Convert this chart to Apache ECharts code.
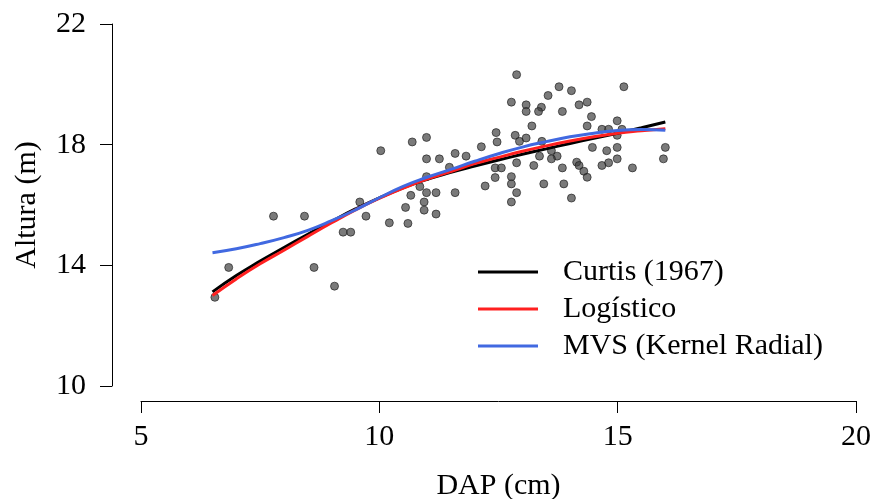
<!DOCTYPE html>
<html>
<head>
<meta charset="utf-8">
<title>Altura x DAP</title>
<script src="https://cdn.jsdelivr.net/npm/echarts@6/dist/echarts.min.js"></script>
<style>
    html, body { margin: 0; padding: 0; background: #fff; }
    #chart { width: 872px; height: 499px; }
</style>
</head>
<body>
<div id="chart"></div>
<script>
// observed trees (DAP cm, Altura m)
const obsDap = [
    6.55, 6.84, 7.78, 8.43, 8.63, 9.06, 9.24, 9.40, 9.59, 9.72, 10.21,
    10.03, 10.69, 10.99, 10.99, 11.26, 11.59, 11.82, 12.14, 12.45, 12.47, 12.85,
    12.88, 12.43, 12.56, 12.43, 12.77, 12.77, 12.88, 12.77, 12.22, 11.47, 10.99,
    10.85, 10.99, 11.19, 11.59, 10.66, 10.94, 10.94, 10.55, 11.19, 10.60,
    12.88, 13.77, 14.03, 15.13, 13.54, 12.77, 13.08, 13.08, 13.40, 13.34, 14.19,
    14.36, 13.84, 14.45, 13.20, 14.36, 14.99, 14.67, 14.81, 15.09, 12.94, 13.08,
    13.41, 14.99, 14.99, 14.47, 14.77, 16.00, 15.96, 14.99, 15.31, 14.67, 14.81,
    14.14, 14.19, 14.29, 14.36, 13.84, 13.73, 13.61, 13.61, 13.36, 13.24, 13.45,
    13.87, 14.03
];
const obsAltura = [
    12.94, 13.93, 15.63, 15.63, 13.93, 13.31, 15.10, 15.10, 16.10, 15.63, 15.41,
    17.80, 18.09, 18.24, 17.53, 17.53, 17.71, 17.62, 17.93, 18.40, 18.09, 18.31,
    17.40, 17.23, 17.23, 16.91, 16.94, 16.70, 16.41, 16.10, 16.63, 17.25, 16.94,
    16.61, 16.41, 16.41, 16.41, 16.32, 16.10, 15.83, 15.92, 15.70, 15.39,
    20.32, 19.92, 19.79, 19.92, 19.63, 19.41, 19.32, 19.10, 19.24, 19.10, 19.32,
    19.41, 19.10, 18.93, 18.62, 18.62, 18.79, 18.51, 18.51, 18.51, 18.11, 18.22,
    18.11, 18.31, 17.91, 17.91, 17.80, 17.91, 17.53, 17.53, 17.23, 17.31, 17.40,
    17.42, 17.31, 17.12, 16.92, 17.23, 17.62, 17.53, 17.80, 17.62, 17.31, 16.70,
    16.70, 16.23
];

// fitted curves read along DAP
const dapGrid = [6.5, 7, 7.5, 8, 8.5, 9, 9.5, 10, 10.5, 11, 11.5, 12, 12.5, 13, 13.5, 14, 14.5, 15, 15.5, 16];
const curtis = [13.12, 13.66, 14.14, 14.59, 15.03, 15.46, 15.87, 16.24, 16.57, 16.85, 17.08, 17.29, 17.49, 17.68, 17.86, 18.04, 18.21, 18.38, 18.56, 18.75];
const logistico = [13.00, 13.55, 14.05, 14.50, 14.96, 15.41, 15.84, 16.22, 16.56, 16.86, 17.11, 17.37, 17.58, 17.78, 17.96, 18.12, 18.26, 18.38, 18.46, 18.53];
const mvs = [14.42, 14.55, 14.72, 14.92, 15.16, 15.48, 15.84, 16.24, 16.62, 16.92, 17.18, 17.45, 17.70, 17.92, 18.10, 18.26, 18.38, 18.47, 18.50, 18.48];

const nomes = ['Curtis (1967)', 'Logístico', 'MVS (Kernel Radial)'];
const cores = ['#000000', '#ff2020', '#4169e1'];

const fonte = '"Liberation Serif", "Times New Roman", serif';

function pares(xs, ys) {
    let list = [];
    for (let i = 0; i < xs.length; i++) {
        list.push([xs[i], ys[i]]);
    }
    return list;
}

let chart = echarts.init(document.getElementById('chart'));
let curvas = [curtis, logistico, mvs];
let series = [{
    type: 'scatter',
    data: pares(obsDap, obsAltura),
    symbolSize: 8,
    itemStyle: {
        color: 'rgba(60,60,60,0.85)',
        borderColor: 'rgba(25,25,25,0.8)',
        borderWidth: 1
    },
    z: 2
}];
for (let i = 0; i < curvas.length; i++) {
    series.push({
        name: nomes[i],
        type: 'line',
        smooth: true,
        symbol: 'none',
        data: pares(dapGrid, curvas[i]),
        lineStyle: { color: cores[i], width: 3 },
        itemStyle: { color: cores[i] },
        z: 3 + i
    });
}

let options = {
    animation: false,
    backgroundColor: '#ffffff',
    grid: { left: 141, right: 16, top: 24, bottom: 113, outerBoundsMode: 'none', containLabel: false },
    legend: {
        data: nomes,
        orient: 'vertical',
        left: 478,
        top: 256,
        padding: 0,
        icon: 'rect',
        itemWidth: 60,
        itemHeight: 3,
        itemGap: 5,
        textStyle: {
            fontFamily: fonte,
            fontSize: 30,
            lineHeight: 32,
            color: '#000',
            padding: [0, 0, 0, 20]
        }
    },
    xAxis: {
        type: 'value',
        min: 5,
        max: 20,
        interval: 5,
        offset: 15,
        name: 'DAP (cm)',
        nameLocation: 'middle',
        nameGap: 70,
        nameTextStyle: { fontFamily: fonte, fontSize: 30, color: '#000' },
        axisLine: { show: true, lineStyle: { color: '#000', width: 1 } },
        axisTick: { show: true, length: 12, lineStyle: { color: '#000' } },
        axisLabel: { margin: 21, fontFamily: fonte, fontSize: 30, color: '#000' },
        splitLine: { show: false }
    },
    yAxis: {
        type: 'value',
        min: 10,
        max: 22,
        interval: 4,
        offset: 29,
        name: 'Altura (m)',
        nameLocation: 'middle',
        nameGap: 70,
        nameTextStyle: { fontFamily: fonte, fontSize: 30, color: '#000' },
        axisLine: { show: true, lineStyle: { color: '#000', width: 1 } },
        axisTick: { show: true, length: 12, lineStyle: { color: '#000' } },
        axisLabel: { margin: 26, fontFamily: fonte, fontSize: 30, color: '#000' },
        splitLine: { show: false }
    },
    series: series
};
chart.setOption(options, true);
</script>
</body>
</html>
